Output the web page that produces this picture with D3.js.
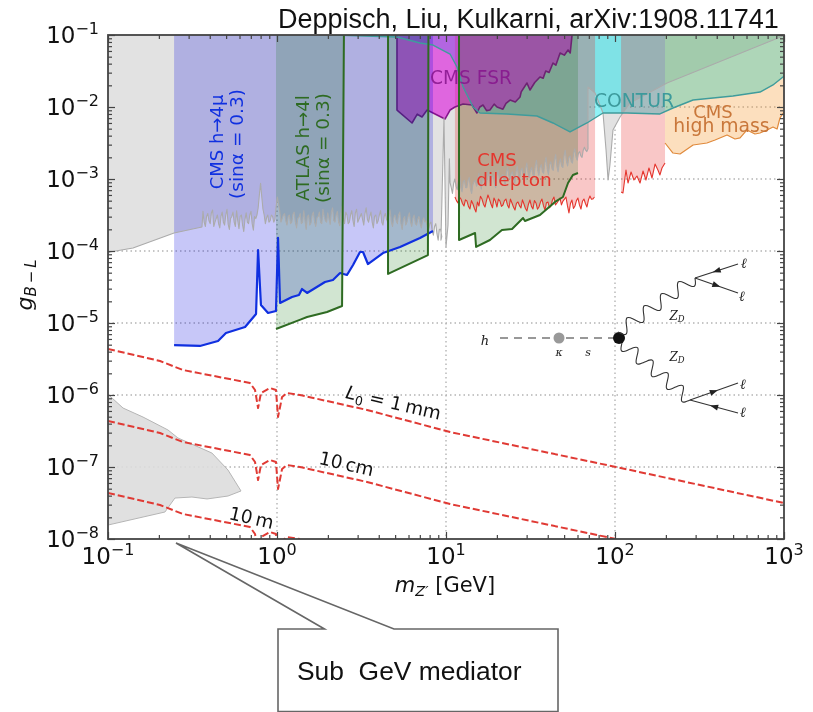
<!DOCTYPE html>
<html>
<head>
<meta charset="utf-8">
<script src="https://cdnjs.cloudflare.com/ajax/libs/d3/7.8.5/d3.min.js"></script>
<style>
  html, body { margin: 0; padding: 0; background: #fff; }
  svg { display: block; }
  text { font-family: "DejaVu Sans", sans-serif; }
</style>
</head>
<body>
<svg width="813" height="712"></svg>
<script>
// all curves are [log10(m), log10(g)]
const xExponents = [-1, 0, 1, 2, 3];
const yExponents = [-1, -2, -3, -4, -5, -6, -7, -8];

const cmsH4mu = [[-.609,-5.306],[-.456,-5.319],[-.349,-5.25],[-.302,-5.139],[-.189,-5.056],[-.124,-4.875],[-.112,-3.986],[-.095,-4.75],[-.053,-4.861],[-.006,-4.833],[.006,-3.819],[.018,-4.722],[.089,-4.639],[.13,-4.611],[.148,-4.528],[.178,-4.583],[.284,-4.431],[.331,-4.403],[.373,-4.306],[.414,-4.333],[.45,-4.194],[.491,-4.014],[.509,-4.014],[.538,-4.181],[.627,-4.028],[.728,-3.944],[.846,-3.819],[.923,-3.722]];

const atlasA = [[-.006,-5.083],[.178,-4.917],[.296,-4.847],[.385,-4.764],[.396,-1]];
const atlasB = [[.657,-1],[.657,-4.319],[.893,-4.056],[.896,-1]];
const atlasC = [[1.077,-1],[1.077,-3.847],[1.172,-3.75],[1.178,-3.944],[1.26,-3.847],[1.331,-3.708],[1.391,-3.694],[1.456,-3.542],[1.467,-3.583],[1.556,-3.5],[1.645,-3.319],[1.692,-3.25],[1.722,-3.056],[1.751,-2.944],[1.781,-2.917]];

const cmsFsr = [[.71,-1],[.71,-2.042],[.799,-2.222],[.83,-2.1],[.858,-2.139],[.888,-2.042],[.947,-2.111],[.994,-2.167],[1.024,-2.042],[1.053,-2],[1.101,-1.958],[1.154,-1.972],[1.183,-2.083],[1.2,-2],[1.219,-1.972],[1.24,-2.05],[1.26,-2.042],[1.285,-1.96],[1.302,-2],[1.337,-2.03],[1.355,-1.95],[1.379,-1.903],[1.41,-1.93],[1.438,-1.861],[1.445,-1.79],[1.479,-1.667],[1.497,-1.764],[1.525,-1.66],[1.556,-1.583],[1.575,-1.6],[1.59,-1.5],[1.61,-1.52],[1.633,-1.389],[1.65,-1.42],[1.675,-1.25],[1.7,-1.28],[1.722,-1.208],[1.735,-1.25],[1.746,-1]];

const contur = [[.331,-1],[.71,-1.028],[.846,-1.111],[.923,-1.139],[1.024,-1.264],[1.065,-1.444],[1.101,-1.722],[1.16,-2],[1.201,-2.083],[1.361,-2.097],[1.538,-2.125],[1.633,-2.222],[1.734,-2.347],[1.834,-2.222],[1.929,-2.083],[2.071,-2.083],[2.266,-2.097],[2.343,-2.014],[2.462,-1.903],[2.698,-1.847],[2.858,-1.792],[2.935,-1.694],[2.994,-1.583],[3,-1.57]];

const highMass = [[2.296,-2.5],[2.343,-2.639],[2.385,-2.653],[2.462,-2.528],[2.544,-2.5],[2.592,-2.458],[2.663,-2.389],[2.71,-2.444],[2.74,-2.43],[2.781,-2.319],[2.828,-2.375],[2.858,-2.361],[2.9,-2.32],[2.935,-2.278],[2.959,-2.306],[2.976,-2.153],[3,-2.07]];

// dilepton limit, two interleaved reads on an even mass grid from 1.053
const dileptonLow = [-3.25,-3.333,-3.278,-3.375,-3.306,-3.417,-3.347,-3.458,-3.375,-3.278,-3.389,-3.222,-3.347,-3.264,-3.389,-3.306,-3.361,-3.278,-3.403,-3.333,-3.431,-3.319,-3.403,-3.347,-3.444,-3.292,-3.417,-3.333,-3.389,-3.278,-3.431,-3.319,-3.375,-3.25,-3.333,-3.264,-3.306,-3.25,-3.472,-3.292,-3.375,-3.264,-3.417,-3.278,-3.389,-3.236,-3.278];
const dileptonLowMid = [-3.3,-3.25,-3.34,-3.29,-3.38,-3.3,-3.41,-3.32,-3.24,-3.35,-3.3,-3.28,-3.4,-3.31,-3.28,-3.38,-3.3,-3.36,-3.28,-3.39,-3.34,-3.37,-3.29,-3.41,-3.35,-3.38,-3.3,-3.42,-3.32,-3.37,-3.33,-3.4,-3.29,-3.36,-3.3,-3.36,-3.28,-3.37,-3.34,-3.41,-3.3,-3.36,-3.31,-3.34,-3.29,-3.28,-3.25];
const dileptonHigh = [[2.036,-3.181],[2.047,-3.194],[2.065,-2.875],[2.077,-3.056],[2.095,-2.903],[2.112,-3.014],[2.13,-2.958],[2.148,-3.056],[2.166,-2.889],[2.183,-3.014],[2.201,-2.847],[2.219,-2.986],[2.237,-2.792],[2.254,-2.875],[2.266,-2.944],[2.278,-2.847],[2.296,-2.778]];

// prompt search lower edge: smooth head, two noisy stretches on even grids, tail
const promptHead = [[-1,-4.03],[-.988,-4.014],[-.852,-3.958],[-.609,-3.75],[-.444,-3.667]];
const promptNoiseA = [-3.45,-3.66,-3.48,-3.62,-3.43,-3.6,-3.5,-3.68,-3.46,-3.64,-3.42,-3.7,-3.52,-3.6,-3.44,-3.69,-3.5,-3.73,-3.47,-3.62,-3.45,-3.71,-3.55,-3.4,-3.06,-3.42,-3.62,-3.5,-3.58,-3.52,-3.56,-3.25,-3.45,-3.55,-3.48,-3.64,-3.5,-3.6,-3.46,-3.68,-3.53,-3.62,-3.44,-3.7,-3.5,-3.61,-3.46,-3.66,-3.52,-3.6,-3.42,-3.58,-3.47,-3.63,-3.4,-3.6,-3.45,-3.65,-3.38,-3.62,-3.5,-3.6,-3.44,-3.66,-3.42,-3.56,-3.48,-3.64,-3.4,-3.6,-3.46,-3.68,-3.5,-3.58,-3.44,-3.64,-3.48,-3.6,-3.43,-3.66,-3.5,-3.62,-3.46,-3.7,-3.52,-3.6,-3.47,-3.66,-3.5,-3.64,-3.52,-3.68,-3.54,-3.58,-3.72,-3.6,-3.78,-3.62,-3.85,-3.7];
const promptNoiseAMid = [-3.6,-3.52,-3.58,-3.47,-3.66,-3.55,-3.62,-3.52,-3.6,-3.5,-3.63,-3.55,-3.46,-3.66,-3.58,-3.52,-3.64,-3.56,-3.6,-3.5,-3.62,-3.52,-3.5,-3.22,-3.25,-3.5,-3.54,-3.6,-3.5,-3.6,-3.38,-3.35,-3.6,-3.5,-3.58,-3.52,-3.62,-3.49,-3.6,-3.55,-3.48,-3.6,-3.58,-3.52,-3.64,-3.5,-3.6,-3.54,-3.46,-3.62,-3.52,-3.6,-3.55,-3.46,-3.58,-3.5,-3.6,-3.48,-3.54,-3.46,-3.62,-3.5,-3.58,-3.47,-3.6,-3.52,-3.56,-3.48,-3.56,-3.52,-3.6,-3.52,-3.62,-3.5,-3.6,-3.52,-3.56,-3.5,-3.6,-3.54,-3.58,-3.5,-3.62,-3.56,-3.64,-3.52,-3.6,-3.54,-3.62,-3.56,-3.62,-3.58,-3.6,-3.66,-3.62,-3.72,-3.66,-3.76,-3.7,-3.8];
const promptGap = [[.97,-3.85],[.988,-2.15],[1,-3.94],[1.012,-3.64],[1.02,-2.72]];
const promptNoiseB = [-3.05,-3.2,-3,-3.15,-2.95,-3.18,-3.02,-3.12,-2.98,-3.2,-3.04,-3.1,-2.92,-3.14,-3,-3.1,-2.9,-3.08,-2.96,-3.12,-2.88,-3.05,-2.94,-3.08,-2.84,-3,-2.9,-3.06,-2.82,-3,-2.85,-3.04,-2.78,-2.98,-2.84,-2.96,-2.74,-2.95,-2.8,-2.92,-2.7,-2.94,-2.76,-2.88,-2.66,-2.9,-2.72,-2.84,-2.6,-2.82,-2.68,-2.78,-2.58,-2.74,-2.62,-2.7,-2.56,-2.62];
const promptNoiseBMid = [-3.12,-3.06,-3.1,-3.02,-3.12,-3.04,-3.12,-3.02,-3.14,-3.08,-3.02,-3.06,-3.04,-3.02,-3.08,-2.98,-3.02,-2.96,-3.06,-2.96,-3.0,-2.96,-3.02,-2.9,-2.96,-2.92,-3.0,-2.9,-2.96,-2.88,-2.96,-2.86,-2.92,-2.88,-2.94,-2.82,-2.88,-2.84,-2.9,-2.78,-2.86,-2.8,-2.86,-2.74,-2.82,-2.78,-2.82,-2.68,-2.76,-2.7,-2.76,-2.64,-2.7,-2.64,-2.68,-2.6,-2.6,-2.58];
const promptTail = [[1.84,-2.5],[1.84,-1.722],[1.882,-1.806],[1.929,-2.083],[1.947,-2.597],[1.959,-3.014],[1.97,-2.806],[1.988,-2.319],[2.03,-2.139],[2.089,-1.944],[2.308,-1.667],[2.994,-1.014],[3,-1]];

const babarBlob = [[-1,-5.986],[-.976,-6.042],[-.911,-6.181],[-.793,-6.306],[-.645,-6.486],[-.586,-6.597],[-.385,-6.806],[-.29,-7.042],[-.213,-7.333],[-.29,-7.403],[-.414,-7.444],[-.503,-7.417],[-.604,-7.431],[-.663,-7.625],[-1,-7.806]];

const decay1mm = [[-1,-5.361],[-.692,-5.528],[-.556,-5.653],[-.16,-5.833],[-.13,-5.931],[-.112,-6.181],[-.095,-5.972],[-.041,-5.903],[-.006,-5.931],[.006,-6.306],[.03,-6.028],[.059,-5.972],[.136,-6],[.533,-6.208],[1.024,-6.514],[2.006,-7],[3,-7.5]];
const decay10cm = [[-1,-6.361],[-.692,-6.528],[-.556,-6.653],[-.16,-6.833],[-.13,-6.931],[-.112,-7.181],[-.095,-6.972],[-.041,-6.903],[-.006,-6.931],[.006,-7.306],[.03,-7.028],[.059,-6.972],[.136,-7],[.533,-7.208],[1.024,-7.514],[2.006,-8]];
const decay10m = [[-1,-7.361],[-.692,-7.528],[-.556,-7.653],[-.16,-7.833],[-.13,-7.931],[-.112,-8.181],[-.095,-7.972],[-.041,-7.903],[-.006,-7.931],[.006,-8.306],[.03,-8.028],[.059,-7.972],[.136,-8]];

const width = 813, height = 712;
const margin = { left: 108, right: 29, top: 35, bottom: 173 };
const svg = d3.select("svg");

const x = d3.scaleLog().domain([0.1, 1000]).range([margin.left, width - margin.right]);
const y = d3.scaleLog().domain([1e-8, 0.1]).range([height - margin.bottom, margin.top]);
const plotW = width - margin.left - margin.right;
const plotH = height - margin.top - margin.bottom;

const line = d3.line().x(d => x(10 ** d[0])).y(d => y(10 ** d[1]));
const logTop = -1;

// closes a lower edge up to the top of the plot
const upTo = pts => [[pts[0][0], logTop], ...pts, [pts[pts.length - 1][0], logTop]];
const onGrid = (vals, mids, start, step) =>
  d3.merge(vals.map((v, i) => [[start + i * step, v], [start + (i + .5) * step, mids[i]]]));

const dileptonA = onGrid(dileptonLow, dileptonLowMid, 1.053, .01775);
const promptEdge = [
  ...promptHead,
  ...onGrid(promptNoiseA, promptNoiseAMid, -.438, .0142),
  ...promptGap,
  ...onGrid(promptNoiseB, promptNoiseBMid, 1.024, .0142),
  ...promptTail
];

svg.append("defs").append("clipPath").attr("id", "plot")
  .append("rect").attr("x", margin.left).attr("y", margin.top).attr("width", plotW).attr("height", plotH);

const chart = svg.append("g").style("filter", "blur(0.55px)");
const g = chart.append("g").attr("clip-path", "url(#plot)");

function area(pts, fill, opacity) {
  g.append("path").attr("d", line(pts) + "Z").attr("fill", fill).attr("fill-opacity", opacity).attr("stroke", "none");
}
function curve(pts, stroke, w, dash) {
  g.append("path").attr("d", line(pts)).attr("fill", "none").attr("stroke", stroke)
    .attr("stroke-width", w).attr("stroke-dasharray", dash || null).attr("stroke-linejoin", "round");
}

// gridlines
g.selectAll(".gx").data(xExponents.slice(1, -1)).join("line")
  .attr("x1", d => x(10 ** d)).attr("x2", d => x(10 ** d)).attr("y1", margin.top).attr("y2", margin.top + plotH)
  .attr("stroke", "#b4b4b4").attr("stroke-width", 1.4).attr("stroke-dasharray", "1.5,3");
g.selectAll(".gy").data(yExponents.slice(1, -1)).join("line")
  .attr("x1", margin.left).attr("x2", margin.left + plotW).attr("y1", d => y(10 ** d)).attr("y2", d => y(10 ** d))
  .attr("stroke", "#b4b4b4").attr("stroke-width", 1.4).attr("stroke-dasharray", "1.5,3");

// filled regions, order matters for the colour mixing
area(upTo(promptEdge), "#e2e2e2", 1);
area(babarBlob, "#dddddd", 0.9);
curve(babarBlob.concat([babarBlob[0]]), "#b5b5b5", 1);
area(upTo(contur), "rgb(0,225,235)", 0.44);
area(upTo(dileptonA.concat([[1.882, -3.25]])), "rgb(230,30,30)", 0.25);
area(upTo(dileptonHigh), "rgb(230,30,30)", 0.25);
area(upTo(highMass), "rgb(245,150,40)", 0.3);
area(cmsFsr, "rgb(220,0,220)", 0.55);
curve(cmsFsr, "#86148c", 1.6);
area(upTo(cmsH4mu), "rgb(0,0,225)", 0.22);
area(atlasA.concat([[-.006, logTop]]), "rgb(0,110,0)", 0.18);
area(atlasB, "rgb(0,110,0)", 0.18);
area(atlasC.concat([[1.781, logTop]]), "rgb(0,110,0)", 0.18);

curve(promptEdge, "#ababab", 1.1);
curve(contur, "#3f9c9c", 1.4);
curve(highMass, "#e08a3c", 1.2);
curve(dileptonA, "#e5352d", 1.1);
curve(dileptonHigh, "#e5352d", 1.1);
curve(cmsH4mu, "#1030e0", 2.2);
curve(atlasA, "#2e6b22", 2);
curve(atlasB, "#2e6b22", 2);
curve(atlasC, "#2e6b22", 2);

curve(decay1mm, "#e03a34", 2, "7,3");
curve(decay10cm, "#e03a34", 2, "7,3");
curve(decay10m, "#e03a34", 2, "7,3");

// ticks on all four sides, pointing in
const isMajor = v => Math.abs(Math.log10(v) - Math.round(Math.log10(v))) < 1e-6;
function ticks(axisFn, scale, transform, values, size) {
  const a = chart.append("g").attr("transform", transform)
    .call(axisFn(scale).tickValues(values).tickSize(size).tickFormat(""));
  a.select(".domain").remove();
  a.selectAll("line").attr("stroke", "#444").attr("stroke-width", 1.2);
}
const xMajor = x.ticks().filter(isMajor), xMinor = x.ticks().filter(v => !isMajor(v));
const yMajor = y.ticks().filter(isMajor), yMinor = y.ticks().filter(v => !isMajor(v));
const bottomY = margin.top + plotH, rightX = margin.left + plotW;
[[xMajor, 7], [xMinor, 4]].forEach(([v, s]) => {
  ticks(d3.axisBottom, x, `translate(0,${bottomY})`, v, -s);
  ticks(d3.axisTop, x, `translate(0,${margin.top})`, v, -s);
});
[[yMajor, 7], [yMinor, 4]].forEach(([v, s]) => {
  ticks(d3.axisLeft, y, `translate(${margin.left},0)`, v, -s);
  ticks(d3.axisRight, y, `translate(${rightX},0)`, v, -s);
});
chart.append("rect").attr("x", margin.left).attr("y", margin.top).attr("width", plotW).attr("height", plotH)
  .attr("fill", "none").attr("stroke", "#444").attr("stroke-width", 1.8);

// tick labels
function powerLabel(px, py, exp, anchor) {
  const t = chart.append("text").attr("x", px).attr("y", py).attr("text-anchor", anchor)
    .attr("font-size", 23).attr("fill", "#111");
  t.append("tspan").text("10");
  t.append("tspan").attr("font-size", 16).attr("dy", -9).text(String(exp).replace("-", "\u2212"));
}
xExponents.forEach(e => powerLabel(x(10 ** e), 564, e, "middle"));
yExponents.forEach(e => powerLabel(99, y(10 ** e) + 8, e, "end"));

// axis titles
const xt = chart.append("text").attr("x", 445).attr("y", 592).attr("text-anchor", "middle").attr("font-size", 21).attr("fill", "#111");
xt.append("tspan").attr("font-style", "italic").text("m");
xt.append("tspan").attr("font-style", "italic").attr("font-size", 14.5).attr("dy", 4).text("Z\u2032");
xt.append("tspan").attr("dy", -4).text(" [GeV]");

const yt = chart.append("text").attr("transform", "translate(32,285) rotate(-90)").attr("text-anchor", "middle").attr("font-size", 22).attr("fill", "#111");
yt.append("tspan").attr("font-style", "italic").text("g");
yt.append("tspan").attr("font-style", "italic").attr("font-size", 15).attr("dy", 4).text("B\u2009\u2212\u2009L");

// region labels
function label(px, py, txt, color, size, rot, opacity) {
  return chart.append("text").attr("transform", `translate(${px},${py}) rotate(${rot || 0})`)
    .attr("text-anchor", "middle").attr("font-size", size).attr("fill", color)
    .attr("fill-opacity", opacity || 1).text(txt);
}
label(223, 142, "CMS h\u21924\u03bc", "#1030e0", 18, -90);
label(243, 144, "(sin\u03b1 = 0.3)", "#1030e0", 18.5, -90);
label(309, 148, "ATLAS h\u21924l", "#2e6b22", 18.2, -90);
label(329, 148, "(sin\u03b1 = 0.3)", "#2e6b22", 18.5, -90);
label(471, 84, "CMS FSR", "#86148c", 18.6, 0, .85);
label(634, 107, "CONTUR", "#3c9a9c", 18.8, 0);
label(713, 118, "CMS", "#c9773a", 18, 0);
label(721.5, 132, "high mass", "#c9773a", 18.8, 0);
label(497, 166, "CMS", "#e5352d", 18, 0);
label(514, 186, "dilepton", "#e5352d", 18.5, 0);

function rotatedL(px, py, parts, rot) {
  const t = chart.append("text").attr("transform", `translate(${px},${py}) rotate(${rot})`)
    .attr("text-anchor", "middle").attr("font-size", 18.5).attr("fill", "#111");
  parts.forEach(p => {
    const s = t.append("tspan").text(p.t);
    if (p.i) s.attr("font-style", "italic");
    if (p.sub) s.attr("font-size", 12.5).attr("dy", 4);
    if (p.up) s.attr("dy", -4);
  });
}
rotatedL(392, 409, [{ t: "L", i: 1 }, { t: "0", sub: 1 }, { t: " = 1\u2009mm", up: 1 }], 13);
rotatedL(345, 470, [{ t: "10\u2009cm" }], 13);
rotatedL(250, 524, [{ t: "10\u2009m" }], 13);

// feynman diagram inset
const fey = chart.append("g").attr("fill", "none").attr("stroke", "#333").attr("stroke-width", 1.1);
fey.append("line").attr("x1", 500).attr("y1", 338).attr("x2", 556).attr("y2", 338).attr("stroke-dasharray", "8,6");
fey.append("line").attr("x1", 566).attr("y1", 338).attr("x2", 618).attr("y2", 338).attr("stroke-dasharray", "8,6");
fey.append("circle").attr("cx", 559).attr("cy", 338).attr("r", 5.5).attr("fill", "#999").attr("stroke", "none");
fey.append("circle").attr("cx", 619).attr("cy", 338).attr("r", 6).attr("fill", "#111").attr("stroke", "none");

function wavy(x0, y0, x1, y1, waves, amp) {
  const len = Math.hypot(x1 - x0, y1 - y0);
  const ux = (x1 - x0) / len, uy = (y1 - y0) / len;
  const pts = d3.range(0, 1.0001, 1 / (waves * 16)).map(t => {
    const off = amp * Math.sin(t * waves * 2 * Math.PI);
    return [x0 + ux * len * t - uy * off, y0 + uy * len * t + ux * off];
  });
  fey.append("path").attr("d", d3.line().curve(d3.curveBasis)(pts));
}
wavy(618, 332, 695, 278, 4.5, 6.5);
wavy(622, 343, 690, 400, 4.5, 6.5);

function fermion(x0, y0, x1, y1, flip) {
  fey.append("line").attr("x1", x0).attr("y1", y0).attr("x2", x1).attr("y2", y1);
  const a = Math.atan2(y1 - y0, x1 - x0) * 180 / Math.PI + (flip ? 180 : 0);
  fey.append("path").attr("d", "M4,0L-4,-3L-4,3Z").attr("fill", "#222").attr("stroke", "none")
    .attr("transform", `translate(${(x0 + x1) / 2},${(y0 + y1) / 2}) rotate(${a})`);
}
fermion(695, 278, 738, 264, true);
fermion(695, 278, 738, 293, false);
fermion(690, 400, 738, 383, false);
fermion(690, 400, 738, 413, true);

function feyText(px, py, txt, size, italic) {
  const t = chart.append("text").attr("x", px).attr("y", py).attr("text-anchor", "middle")
    .attr("font-size", size).attr("fill", "#222").style("font-family", "'DejaVu Serif', serif").text(txt);
  if (italic) t.attr("font-style", "italic");
  return t;
}
feyText(485, 345, "h", 13, true);
feyText(559, 356, "\u03ba", 11, true);
feyText(588, 356, "s", 11, true);
[[744, 268], [742, 301], [743, 389], [743, 417]].forEach(p => feyText(p[0], p[1], "\u2113", 14, true));
[[677, 320], [677, 361]].forEach(p => {
  const t = feyText(p[0], p[1], "Z", 12, true);
  t.append("tspan").attr("font-size", 8.5).attr("dy", 2).text("D");
});

// pasted on top of the figure: citation and callout
svg.append("text").attr("x", 278).attr("y", 28).attr("font-size", 27).attr("fill", "#111")
  .style("font-family", "'Liberation Sans', Arial, sans-serif").text("Deppisch, Liu, Kulkarni, arXiv:1908.11741");

const callout = [[278, 629], [324.5, 629], [176, 543], [394, 629], [558, 629], [558, 711.5], [278, 711.5]];
svg.append("path").attr("d", d3.line()(callout) + "Z").attr("fill", "#fff").attr("stroke", "#666").attr("stroke-width", 1.6);
svg.append("text").attr("x", 297).attr("y", 680).attr("font-size", 26.4).attr("fill", "#111")
  .attr("xml:space", "preserve").style("white-space", "pre")
  .style("font-family", "'Liberation Sans', Arial, sans-serif").text("Sub  GeV mediator");
</script>
</body>
</html>
